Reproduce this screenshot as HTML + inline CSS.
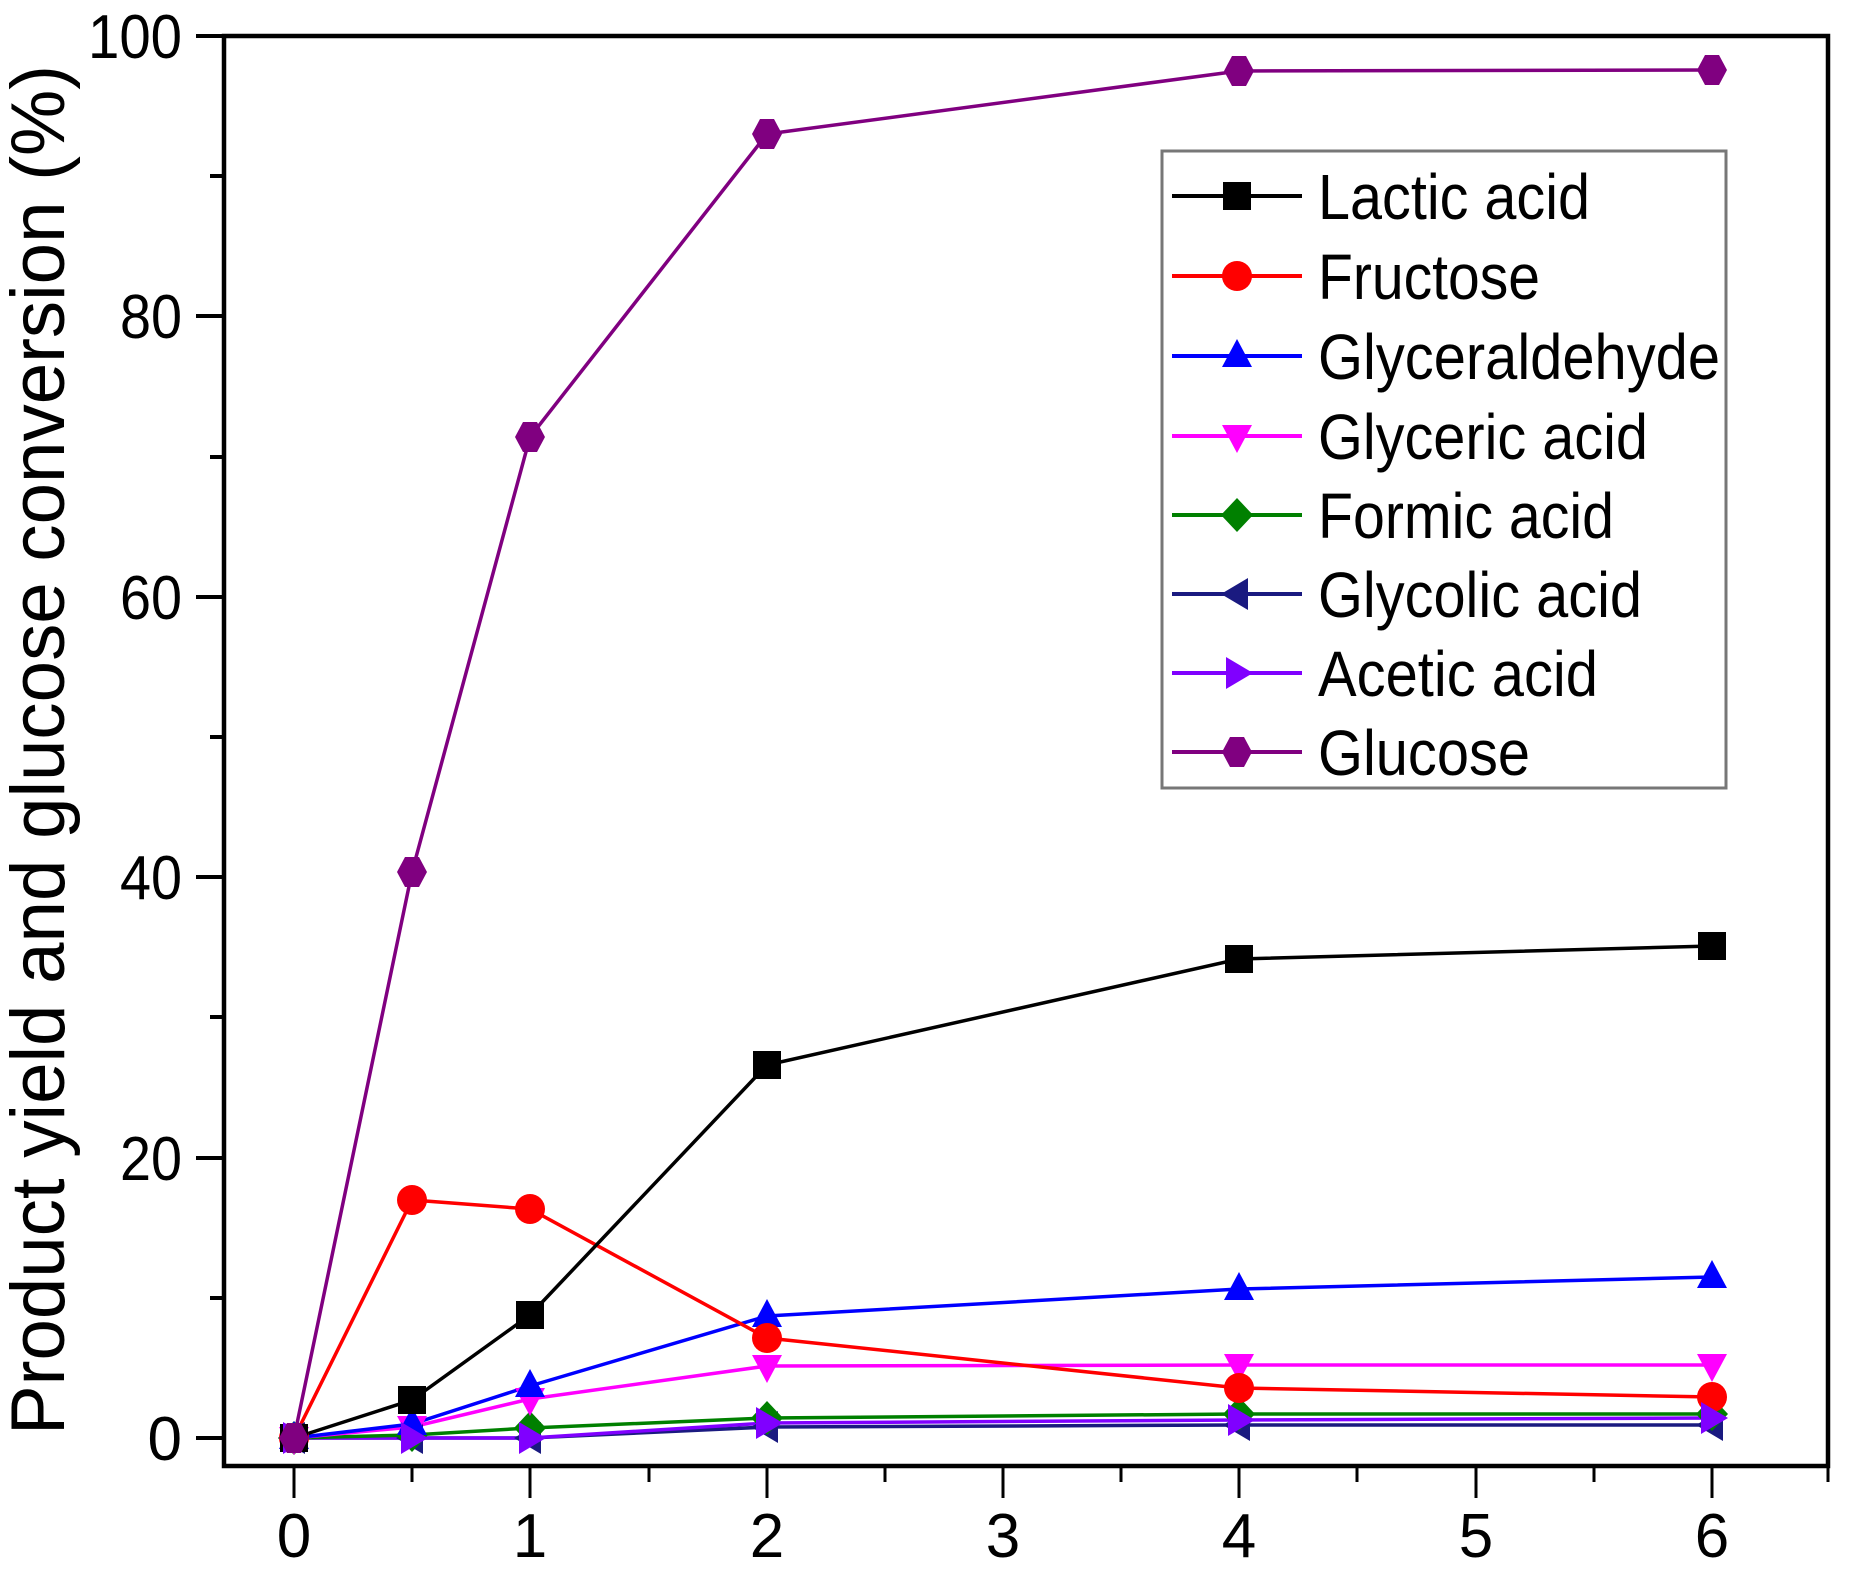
<!DOCTYPE html>
<html><head><meta charset="utf-8"><style>html,body{margin:0;padding:0;background:#fff}svg{display:block}text{font-family:"Liberation Sans Narrow","Liberation Sans",sans-serif;fill:#000}</style></head>
<body>
<svg width="1864" height="1576" viewBox="0 0 1864 1576" xmlns="http://www.w3.org/2000/svg">
<defs>
<g id="sq"><rect x="-14" y="-14" width="28" height="28"/></g>
<g id="ci"><circle r="15"/></g>
<g id="tu"><polygon points="0,-17 15,11 -15,11"/></g>
<g id="td"><polygon points="0,17 15,-11 -15,-11"/></g>
<g id="di"><polygon points="0,-17 16,0 0,17 -16,0"/></g>
<g id="tl"><polygon points="-16,0 11,-16 11,16"/></g>
<g id="tr"><polygon points="16,0 -11,-16 -11,16"/></g>
<g id="hx"><polygon points="-7,-15 7,-15 15,0 7,15 -7,15 -15,0"/></g>
</defs>
<rect x="224" y="36" width="1604" height="1430" fill="none" stroke="#000" stroke-width="4.5"/>
<g stroke="#000" stroke-width="4">
<line x1="196" y1="1438" x2="224" y2="1438"/><line x1="210" y1="1298" x2="224" y2="1298"/>
<line x1="196" y1="1158" x2="224" y2="1158"/><line x1="210" y1="1017" x2="224" y2="1017"/>
<line x1="196" y1="877" x2="224" y2="877"/><line x1="210" y1="737" x2="224" y2="737"/>
<line x1="196" y1="597" x2="224" y2="597"/><line x1="210" y1="457" x2="224" y2="457"/>
<line x1="196" y1="316" x2="224" y2="316"/><line x1="210" y1="176" x2="224" y2="176"/>
<line x1="196" y1="36" x2="224" y2="36"/>
</g>
<g stroke="#000" stroke-width="3">
<line x1="294" y1="1466" x2="294" y2="1498"/><line x1="412" y1="1466" x2="412" y2="1482"/>
<line x1="530" y1="1466" x2="530" y2="1498"/><line x1="649" y1="1466" x2="649" y2="1482"/>
<line x1="767" y1="1466" x2="767" y2="1498"/><line x1="885" y1="1466" x2="885" y2="1482"/>
<line x1="1003" y1="1466" x2="1003" y2="1498"/><line x1="1121" y1="1466" x2="1121" y2="1482"/>
<line x1="1239" y1="1466" x2="1239" y2="1498"/><line x1="1357" y1="1466" x2="1357" y2="1482"/>
<line x1="1476" y1="1466" x2="1476" y2="1498"/><line x1="1594" y1="1466" x2="1594" y2="1482"/>
<line x1="1712" y1="1466" x2="1712" y2="1498"/><line x1="1828" y1="1466" x2="1828" y2="1482"/>
</g>
<g font-size="62" text-anchor="end">
<text x="182" y="1460">0</text><text x="182" y="1180" textLength="62" lengthAdjust="spacingAndGlyphs">20</text><text x="182" y="899" textLength="62" lengthAdjust="spacingAndGlyphs">40</text>
<text x="182" y="619" textLength="62" lengthAdjust="spacingAndGlyphs">60</text><text x="182" y="338" textLength="62" lengthAdjust="spacingAndGlyphs">80</text><text x="182" y="58" textLength="94" lengthAdjust="spacingAndGlyphs">100</text>
</g>
<g font-size="62" text-anchor="middle">
<text x="294" y="1577" dy="-20">0</text><text x="530" y="1557">1</text><text x="767" y="1557">2</text>
<text x="1003" y="1557">3</text><text x="1239" y="1557">4</text><text x="1476" y="1557">5</text><text x="1712" y="1557">6</text>
</g>
<text transform="translate(64,750) rotate(-90)" font-size="76" text-anchor="middle" textLength="1370" lengthAdjust="spacingAndGlyphs">Product yield and glucose conversion (%)</text>
<g fill="none" stroke-width="3.5">
<polyline stroke="#1a1a80" points="294,1438 412,1438 530,1438 767,1427 1239,1425 1712,1425"/>
<polyline stroke="#8000ff" points="294,1438 412,1438 530,1438 767,1423 1239,1420 1712,1418"/>
<polyline stroke="#008000" points="294,1438 412,1435 530,1428 767,1418 1239,1414 1712,1414"/>
<polyline stroke="#ff00ff" points="294,1438 412,1427 530,1399 767,1366 1239,1365 1712,1365"/>
<polyline stroke="#0000ff" points="294,1438 412,1424 530,1386 767,1316 1239,1289 1712,1277"/>
<polyline stroke="#ff0000" points="294,1438 412,1200 530,1209 767,1338 1239,1388 1712,1397"/>
<polyline stroke="#000" points="294,1438 412,1400 530,1315 767,1065 1239,959 1712,946"/>
<polyline stroke="#800080" points="294,1438 412,872 530,437 767,134 1239,71 1712,70"/>
</g>
<g fill="#1a1a80"><use href="#tl" x="294" y="1438"/><use href="#tl" x="412" y="1438"/><use href="#tl" x="530" y="1438"/><use href="#tl" x="767" y="1427"/><use href="#tl" x="1239" y="1425"/><use href="#tl" x="1712" y="1425"/></g>
<g fill="#008000"><use href="#di" x="294" y="1438"/><use href="#di" x="412" y="1435"/><use href="#di" x="530" y="1428"/><use href="#di" x="767" y="1418"/><use href="#di" x="1239" y="1414"/><use href="#di" x="1712" y="1414"/></g>
<g fill="#ff00ff"><use href="#td" x="294" y="1438"/><use href="#td" x="412" y="1427"/><use href="#td" x="530" y="1399"/><use href="#td" x="767" y="1366"/><use href="#td" x="1239" y="1365"/><use href="#td" x="1712" y="1365"/></g>
<g fill="#0000ff"><use href="#tu" x="294" y="1438"/><use href="#tu" x="412" y="1424"/><use href="#tu" x="530" y="1386"/><use href="#tu" x="767" y="1316"/><use href="#tu" x="1239" y="1289"/><use href="#tu" x="1712" y="1277"/></g>
<g fill="#ff0000"><use href="#ci" x="294" y="1438"/><use href="#ci" x="412" y="1200"/><use href="#ci" x="530" y="1209"/><use href="#ci" x="767" y="1338"/><use href="#ci" x="1239" y="1388"/><use href="#ci" x="1712" y="1397"/></g>
<g fill="#000"><use href="#sq" x="294" y="1438"/><use href="#sq" x="412" y="1400"/><use href="#sq" x="530" y="1315"/><use href="#sq" x="767" y="1065"/><use href="#sq" x="1239" y="959"/><use href="#sq" x="1712" y="946"/></g>
<g fill="#8000ff"><use href="#tr" x="294" y="1438"/><use href="#tr" x="412" y="1438"/><use href="#tr" x="530" y="1438"/><use href="#tr" x="767" y="1423"/><use href="#tr" x="1239" y="1420"/><use href="#tr" x="1712" y="1418"/></g>
<g fill="#800080"><use href="#hx" x="294" y="1438"/><use href="#hx" x="412" y="872"/><use href="#hx" x="530" y="437"/><use href="#hx" x="767" y="134"/><use href="#hx" x="1239" y="71"/><use href="#hx" x="1712" y="70"/></g>
<rect x="1162" y="151" width="564" height="637" fill="#fff" stroke="#777" stroke-width="3"/>
<g stroke-width="4">
<line x1="1172" y1="196" x2="1302" y2="196" stroke="#000"/>
<line x1="1172" y1="276" x2="1302" y2="276" stroke="#ff0000"/>
<line x1="1172" y1="356" x2="1302" y2="356" stroke="#0000ff"/>
<line x1="1172" y1="436" x2="1302" y2="436" stroke="#ff00ff"/>
<line x1="1172" y1="515" x2="1302" y2="515" stroke="#008000"/>
<line x1="1172" y1="594" x2="1302" y2="594" stroke="#1a1a80"/>
<line x1="1172" y1="673" x2="1302" y2="673" stroke="#8000ff"/>
<line x1="1172" y1="752" x2="1302" y2="752" stroke="#800080"/>
</g>
<use href="#sq" x="1247" y="196" fill="#000" transform="translate(-10,0)"/>
<use href="#ci" x="1237" y="276" fill="#ff0000"/>
<use href="#tu" x="1237" y="356" fill="#0000ff"/>
<use href="#td" x="1237" y="436" fill="#ff00ff"/>
<use href="#di" x="1237" y="515" fill="#008000"/>
<use href="#tl" x="1237" y="594" fill="#1a1a80"/>
<use href="#tr" x="1237" y="673" fill="#8000ff"/>
<use href="#hx" x="1237" y="752" fill="#800080"/>
<g font-size="64">
<text x="1318" y="219" textLength="272" lengthAdjust="spacingAndGlyphs">Lactic acid</text>
<text x="1318" y="299" textLength="222" lengthAdjust="spacingAndGlyphs">Fructose</text>
<text x="1318" y="379" textLength="402" lengthAdjust="spacingAndGlyphs">Glyceraldehyde</text>
<text x="1318" y="459" textLength="330" lengthAdjust="spacingAndGlyphs">Glyceric acid</text>
<text x="1318" y="538" textLength="296" lengthAdjust="spacingAndGlyphs">Formic acid</text>
<text x="1318" y="617" textLength="324" lengthAdjust="spacingAndGlyphs">Glycolic acid</text>
<text x="1318" y="696" textLength="280" lengthAdjust="spacingAndGlyphs">Acetic acid</text>
<text x="1318" y="775" textLength="212" lengthAdjust="spacingAndGlyphs">Glucose</text>
</g>
</svg>
</body></html>
